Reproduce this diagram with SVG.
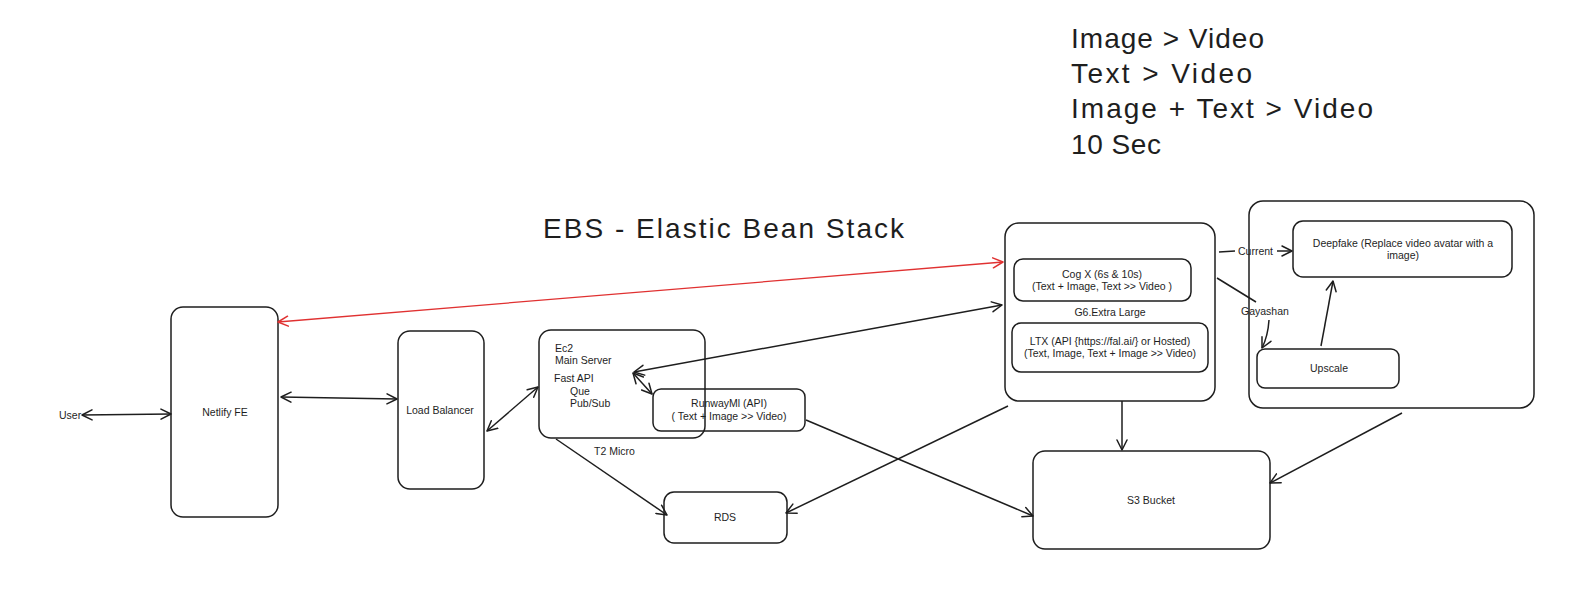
<svg xmlns="http://www.w3.org/2000/svg" width="1572" height="606" viewBox="0 0 1572 606">
<defs>
<marker id="ah" viewBox="0 0 12 12" refX="11" refY="6" markerWidth="12" markerHeight="12" markerUnits="userSpaceOnUse" orient="auto-start-reverse">
<path d="M1,1 L11,6 L1,11" fill="none" stroke="#1e1e1e" stroke-width="1.5" stroke-linecap="round" stroke-linejoin="round"/>
</marker>
<marker id="ahr" viewBox="0 0 12 12" refX="11" refY="6" markerWidth="12" markerHeight="12" markerUnits="userSpaceOnUse" orient="auto-start-reverse">
<path d="M1,1 L11,6 L1,11" fill="none" stroke="#e03131" stroke-width="1.5" stroke-linecap="round" stroke-linejoin="round"/>
</marker>
</defs>
<style>
.box{fill:none;stroke:#1e1e1e;stroke-width:1.5}
.ln{fill:none;stroke:#1e1e1e;stroke-width:1.5}
.t{font-family:"Liberation Sans",Arial,sans-serif;font-size:10.5px;fill:#1e1e1e;dominant-baseline:central}
.c{text-anchor:middle}
.big{font-family:"Liberation Sans",Arial,sans-serif;font-size:28px;fill:#1e1e1e}
</style>
<rect width="1572" height="606" fill="#ffffff"/>

<g id="title-ebs"><text class="big" x="543" y="238" font-size="29" textLength="361" lengthAdjust="spacing">EBS - Elastic Bean Stack</text></g>
<g id="notes">
<text class="big" x="1071" y="48" textLength="193" lengthAdjust="spacing">Image &gt; Video</text>
<text class="big" x="1071" y="83" textLength="181" lengthAdjust="spacing">Text &gt; Video</text>
<text class="big" x="1071" y="118" textLength="302" lengthAdjust="spacing">Image + Text &gt; Video</text>
<text class="big" x="1071" y="154" textLength="90" lengthAdjust="spacing">10 Sec</text>
</g>

<g id="user"><text class="t" x="59" y="415">User</text></g>
<g id="netlify"><rect class="box" x="171" y="307" width="107" height="210" rx="12"/><text class="t c" x="225" y="412">Netlify FE</text></g>
<g id="lb"><rect class="box" x="398" y="331" width="86" height="158" rx="12"/><text class="t c" x="440" y="410">Load Balancer</text></g>
<g id="ec2"><rect class="box" x="539" y="330" width="166" height="108" rx="12"/>
<text class="t" x="555" y="348">Ec2</text>
<text class="t" x="555" y="360">Main Server</text>
<text class="t" x="554" y="378">Fast API</text>
<text class="t" x="570" y="391">Que</text>
<text class="t" x="570" y="403">Pub/Sub</text>
<text class="t" x="594" y="451">T2 Micro</text>
</g>
<g id="runway"><rect class="box" x="653" y="389" width="152" height="42" rx="8"/>
<text class="t c" x="729" y="403">RunwayMl (API)</text>
<text class="t c" x="729" y="416">( Text + Image &gt;&gt; Video)</text>
</g>
<g id="rds"><rect class="box" x="664" y="492" width="123" height="51" rx="10"/><text class="t c" x="725" y="517">RDS</text></g>
<g id="s3"><rect class="box" x="1033" y="451" width="237" height="98" rx="12"/><text class="t c" x="1151" y="500">S3 Bucket</text></g>
<g id="g6"><rect class="box" x="1005" y="223" width="210" height="178" rx="14"/>
<text class="t c" x="1110" y="312">G6.Extra Large</text>
</g>
<g id="cogx"><rect class="box" x="1014" y="259" width="177" height="42" rx="9"/>
<text class="t c" x="1102" y="274">Cog X (6s &amp; 10s)</text>
<text class="t c" x="1102" y="286">(Text + Image, Text &gt;&gt; Video )</text>
</g>
<g id="ltx"><rect class="box" x="1012" y="323" width="196" height="49" rx="9"/>
<text class="t c" x="1110" y="341">LTX (API {https://fal.ai/} or Hosted)</text>
<text class="t c" x="1110" y="353">(Text, Image, Text + Image &gt;&gt; Video)</text>
</g>
<g id="gpu-group"><rect class="box" x="1249" y="201" width="285" height="207" rx="14"/></g>
<g id="deepfake"><rect class="box" x="1293" y="221" width="219" height="56" rx="10"/>
<text class="t c" x="1403" y="243">Deepfake (Replace video avatar with a</text>
<text class="t c" x="1403" y="255">image)</text>
</g>
<g id="upscale"><rect class="box" x="1257" y="349" width="142" height="39" rx="8"/><text class="t c" x="1329" y="368">Upscale</text></g>

<g id="connectors">
<line class="ln" x1="82" y1="415" x2="171" y2="414" marker-start="url(#ah)" marker-end="url(#ah)"/>
<line class="ln" x1="281" y1="397" x2="397" y2="399" marker-start="url(#ah)" marker-end="url(#ah)"/>
<line class="ln" x1="487" y1="431" x2="538" y2="387" marker-start="url(#ah)" marker-end="url(#ah)"/>
<line x1="278" y1="322" x2="1003" y2="262" stroke="#e03131" stroke-width="1.3" fill="none" marker-start="url(#ahr)" marker-end="url(#ahr)"/>
<line class="ln" x1="634" y1="372" x2="1002" y2="305" marker-start="url(#ah)" marker-end="url(#ah)"/>
<line class="ln" x1="633" y1="373" x2="652" y2="394" marker-start="url(#ah)" marker-end="url(#ah)"/>
<line class="ln" x1="556" y1="439" x2="667" y2="515" marker-end="url(#ah)"/>
<line class="ln" x1="1008" y1="406" x2="786" y2="513" marker-end="url(#ah)"/>
<line class="ln" x1="806" y1="420" x2="1033" y2="516" marker-end="url(#ah)"/>
<line class="ln" x1="1122" y1="401" x2="1122" y2="450" marker-end="url(#ah)"/>
<line class="ln" x1="1402" y1="413" x2="1270" y2="483" marker-end="url(#ah)"/>
<line class="ln" x1="1219" y1="252" x2="1235" y2="251"/>
<text class="t" x="1238" y="251" font-size="9.5">Current</text>
<line class="ln" x1="1277" y1="251" x2="1292" y2="251" marker-end="url(#ah)"/>
<line class="ln" x1="1217" y1="278" x2="1256" y2="302"/>
<text class="t" x="1241" y="311" font-size="9.5">Gayashan</text>
<path class="ln" d="M1269,320 Q1268,336 1262,348" marker-end="url(#ah)"/>
<line class="ln" x1="1321" y1="346" x2="1333" y2="281" marker-end="url(#ah)"/>
</g>
</svg>
